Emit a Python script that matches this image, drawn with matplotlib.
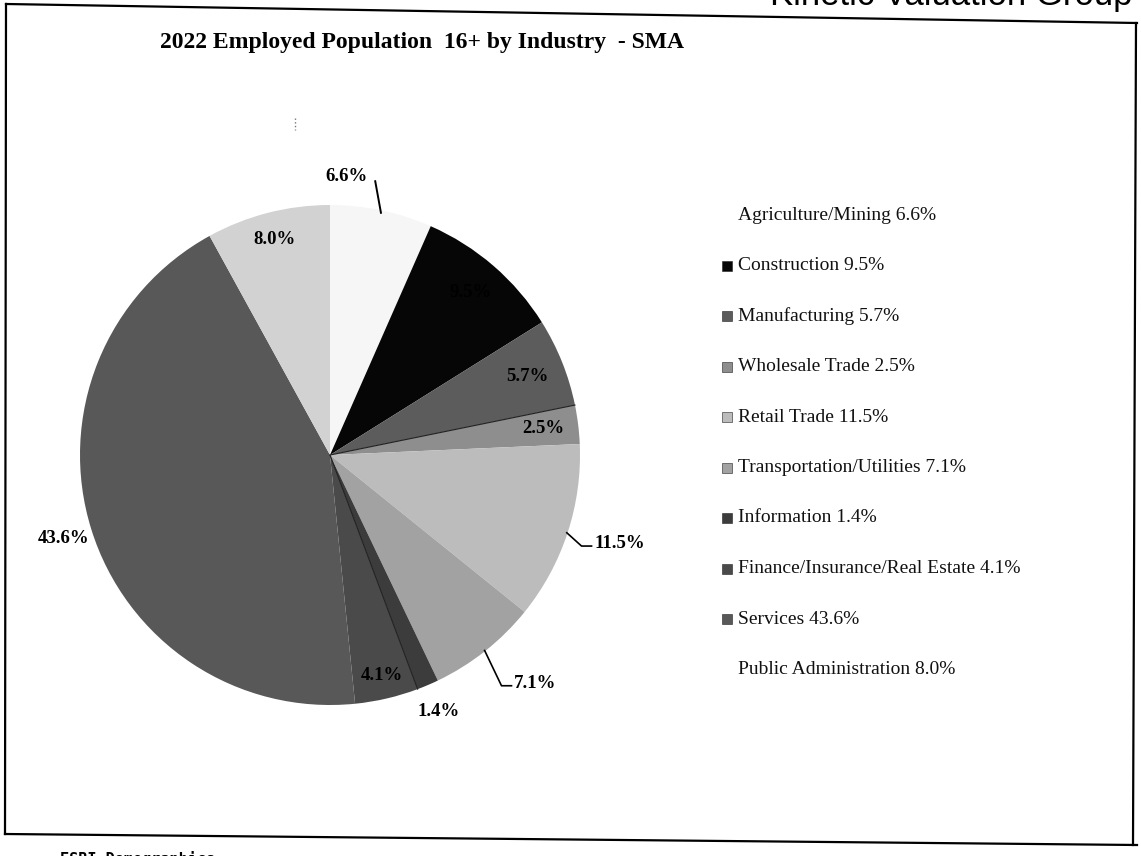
import numpy as np
import matplotlib
matplotlib.use('Agg')
import matplotlib.pyplot as plt
from matplotlib.lines import Line2D

plt.rcParams['font.family'] = ['Liberation Serif', 'DejaVu Serif']

# data
industries = ['Agriculture/Mining', 'Construction', 'Manufacturing', 'Wholesale Trade',
              'Retail Trade', 'Transportation/Utilities', 'Information',
              'Finance/Insurance/Real Estate', 'Services', 'Public Administration']
shares = [6.6, 9.5, 5.7, 2.5, 11.5, 7.1, 1.4, 4.1, 43.6, 8.0]
greys = ['#f6f6f6', '#060606', '#5c5c5c', '#8e8e8e', '#bcbcbc',
         '#a2a2a2', '#3c3c3c', '#4a4a4a', '#585858', '#d2d2d2']

# label placement: (kind, radius)  kind: in / out / lead / elbow
label_style = [('lead', 1.11), ('in', 0.86), ('in', 0.85), ('in', 0.86), ('elbow', 1.0),
               ('elbow', 1.0), ('out', 1.115), ('in', 0.905), ('out', 1.118), ('in', 0.888)]

W, H = 1141, 856
fig = plt.figure(figsize=(W / 100, H / 100), dpi=100)

# pie centre (330,455) px, radius 250 px
cx, cy, r = 330, 455, 250
ax = fig.add_axes([(cx - r) / W, (H - cy - r) / H, 2 * r / W, 2 * r / H])
wedges, _ = ax.pie(shares, colors=greys, startangle=90, counterclock=False,
                   radius=1, wedgeprops=dict(linewidth=0))
ax.set_xlim(-1, 1)
ax.set_ylim(-1, 1)
ax.set_aspect('equal')
ax.axis('off')

# thin dark seams visible in the scan
cum = np.cumsum([0] + shares)
for k in [3, 7]:
    a = np.deg2rad(cum[k] * 3.6)
    ax.plot([0, np.sin(a)], [0, np.cos(a)], color='#202020', lw=0.8)

lab_font = dict(fontsize=13.5, fontweight='bold', color='black')
for i, v in enumerate(shares):
    mid = np.deg2rad((cum[i] + cum[i + 1]) / 2 * 3.6)  # clockwise from top
    sx, sy = np.sin(mid), np.cos(mid)
    kind, rad = label_style[i]
    txt = f'{v:.1f}%'
    if kind in ('in', 'out'):
        ax.text(rad * sx, rad * sy, txt, ha='center', va='center', **lab_font)
    elif kind == 'lead':
        a2 = mid - np.deg2rad(2.5)
        ax.plot([0.99 * sx, rad * np.sin(a2)], [0.99 * sy, rad * np.cos(a2)],
                color='black', lw=1.4, clip_on=False)
        ax.text(rad * np.sin(a2) - 0.03, rad * np.cos(a2) + 0.02, txt,
                ha='right', va='center', **lab_font)
    else:
        r2 = 1.07 if v > 10 else 1.15
        x1, y1 = 0.997 * sx, 0.997 * sy
        x2, y2 = r2 * np.sin(mid + 0.03), r2 * np.cos(mid + 0.03)
        ax.plot([x1, x2, x2 + 0.04], [y1, y2, y2], color='black', lw=1.2, clip_on=False)
        ax.text(x2 + 0.05, y2 + 0.01, txt, ha='left', va='center', **lab_font)

# legend drawn as text rows
leg_x, leg_y0, leg_dy = 738, 215, 50.5
for i, name in enumerate(industries):
    y = leg_y0 + i * leg_dy
    if 0 < i < len(industries) - 1:
        fig.patches.append(plt.Rectangle(((leg_x - 16) / W, (H - y - 5) / H), 10 / W, 10 / H,
                                         transform=fig.transFigure, color=greys[i],
                                         ec='#222222', lw=0.4))
    fig.text(leg_x / W, 1 - y / H, f'{name} {shares[i]:.1f}%', ha='left', va='center',
             fontsize=14, color='#111111')

fig.text(160 / W, 1 - 48 / H, '2022 Employed Population  16+ by Industry  - SMA',
         ha='left', va='baseline', fontsize=17, fontweight='bold')

# scanned page frame
for (x0, y0), (x1, y1) in [((6, 4), (1137, 23)), ((6, 4), (5, 834)),
                           ((5, 834), (1137, 845)), ((1136, 23), (1133, 845))]:
    fig.lines.append(Line2D([x0 / W, x1 / W], [1 - y0 / H, 1 - y1 / H],
                            transform=fig.transFigure, color='black', lw=1.6))
# stray scan mark above the pie
fig.lines.append(Line2D([295 / W, 295 / W], [1 - 118 / H, 1 - 130 / H],
                        transform=fig.transFigure, color='#777777', lw=1, ls=':'))

fig.text(770 / W, 1 - 5 / H, 'Kinetic Valuation Group', ha='left', va='baseline',
         fontsize=25, family='Liberation Sans')
fig.text(60 / W, 1 - 851 / H, 'ESRI Demographics', ha='left', va='top',
         fontsize=11, family='DejaVu Sans Mono', fontweight='bold')

fig.savefig('out.png', dpi=100)
